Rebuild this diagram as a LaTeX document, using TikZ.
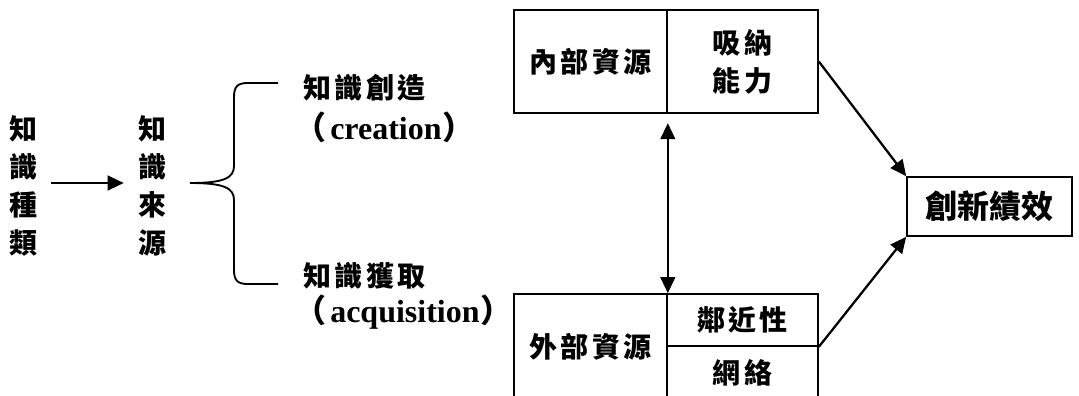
\documentclass[tikz,border=0pt]{standalone}
\usepackage{fontspec}
\setmainfont{Liberation Serif}
\newfontfamily\cjk{Noto Sans CJK TC}
\usetikzlibrary{arrows.meta}
\newcommand\csp{\hspace{2.6pt}}
\tikzset{
  cj/.style={font=\cjk\bfseries\fontsize{21}{28.5}\selectfont, inner sep=0pt, align=center},
  en/.style={font=\bfseries\fontsize{24}{28}\selectfont, inner sep=0pt},
  cell/.style={draw, line width=1.25pt, inner sep=0pt, font=\cjk\bfseries\fontsize{21}{28.5}\selectfont, align=center},
  arr/.style={-{Triangle[length=12pt,width=11pt]}, line width=1.7pt},
  darr/.style={{Triangle[length=12pt,width=11pt]}-{Triangle[length=12pt,width=11pt]}, line width=1.7pt},
}
\begin{document}
\begin{tikzpicture}[x=0.75pt,y=-0.75pt]
\useasboundingbox (0,0) rectangle (1079,396);
\clip (0,0) rectangle (1079,396);
% left columns
\node[cj] (kind) at (24,186) {知\\識\\種\\類};
\node[cj] (src) at (152,186) {知\\識\\來\\源};
\draw[arr, shorten <=9.5pt, shorten >=10.5pt] ([yshift=2.25pt]kind.east) -- ([yshift=2.25pt]src.west);
% brace
\coordinate (btip) at (190,183);
\draw[line width=1.4pt] (278,83) -- (248,83) .. controls (238,83) and (234,86) .. (234,97) -- (234,166) .. controls (234,178) and (224,183) .. (btip) .. controls (224,183) and (234,188) .. (234,200) -- (234,270) .. controls (234,281) and (238,284) .. (248,284) -- (278,284);
% branch texts
\node[cj, anchor=west] (create) at (303,88) {知\csp{}識\csp{}創\csp{}造};
\node[en, anchor=west] (createEn) at (294,127) {{\cjk（}\hspace{3pt}creation\hspace{1pt}{\cjk）}};
\node[cj, anchor=west] (acquire) at (303,276) {知\csp{}識\csp{}獲\csp{}取};
\node[en, anchor=west] (acquireEn) at (294,312) {{\cjk（}\hspace{3pt}acquisition\hspace{1pt}{\cjk）}};
% internal resources box
\node[cell, minimum width=114.75pt, minimum height=77.25pt] (intL) at (590.5,61.5) {內\csp{}部\csp{}資\csp{}源};
\node[cell, minimum width=113.25pt, minimum height=77.25pt] (intR) at (742.5,61.5) {吸\csp{}納\\能\csp{}力};
% external resources box
\node[cell, minimum width=114.75pt, minimum height=78.75pt] (extL) at (590.5,346.5) {外\csp{}部\csp{}資\csp{}源};
\node[cell, minimum width=113.25pt, minimum height=39pt] (extR1) at (742.5,320) {鄰\csp{}近\csp{}性};
\node[cell, minimum width=113.25pt, minimum height=39.75pt] (extR2) at (742.5,372.5) {網\csp{}絡};
% performance
\node[draw, line width=1.25pt, minimum width=123.75pt, minimum height=44.25pt, inner sep=0pt, font=\cjk\bfseries\fontsize{24}{28}\selectfont] (perf) at (989.5,206.5) {創新績效};
% connectors
\draw[darr, shorten <=7pt] (intL.south east) -- (extL.north east);
\draw[arr] (intR.east) -- (perf.north west);
\draw[arr] (extR1.south east) -- (perf.south west);
\end{tikzpicture}
\end{document}
